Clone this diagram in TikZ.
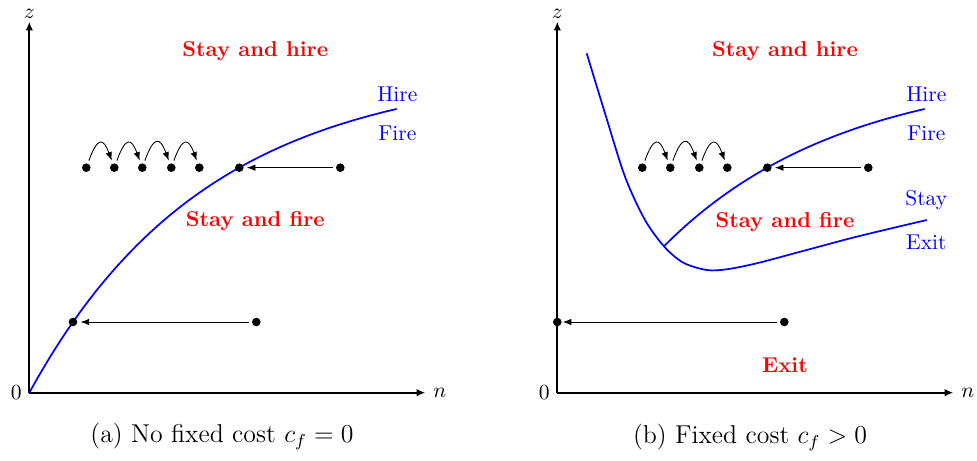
\documentclass[tikz,border=0pt]{standalone}
\usetikzlibrary{arrows.meta}
\tikzset{axis/.style={thick,-{Latex[length=4pt,width=3.5pt]}},
  frontier/.style={thick,blue},
  region/.style={red,font=\bfseries},
  bound/.style={blue},
  dot/.style={circle,fill,inner sep=0pt,minimum size=4pt,outer sep=1.5pt},
  move/.style={-{Latex[length=4pt,width=3pt]}},
  jump/.style={move,out=70,in=110,looseness=2.8}}

\begin{document}
\begin{tikzpicture}[x=0.465pt,y=0.465pt]
  \useasboundingbox (-29.3,-68.3) rectangle (947.7,392.7);
  % (a) no fixed cost
  \draw[axis] (0,0) -- (0,371) node[above,inner sep=1pt] (za) {$z$};
  \draw[axis] (0,0) -- (396,0) node[right] (na) {$n$};
  \node[left] (oa) at (0,0) {0};
  \draw[frontier,domain=0:367.4,samples=80] plot (\x,{325*(1-exp(-\x/178))});
  \node[bound] (hirea) at (368,298) {Hire};
  \node[bound] (firea) at (368,259) {Fire};
  \node[region] (sha) at (226,342) {Stay and hire};
  \node[region] (sfa) at (226,172) {Stay and fire};
  \foreach \i/\x in {1/57,2/85,3/113,4/142,5/170}
    \node[dot] (a\i) at (\x,225) {};
  \node[dot] (a6) at (210,225) {};
  \node[dot] (a7) at (311,225) {};
  \foreach \i/\j in {1/2,2/3,3/4,4/5}
    \draw[jump] (a\i) to (a\j);
  \draw[move] (a7) -- (a6);
  \node[dot] (a8) at (43.7,70.7) {};
  \node[dot] (a9) at (227,70.7) {};
  \draw[move] (a9) -- (a8);
  \node[font=\large] (capa) at (192.7,-44) {(a) No fixed cost $c_f=0$};
  % (b) fixed cost
  \begin{scope}[shift={(528,0)}]
    \draw[axis] (0,0) -- (0,371) node[above,inner sep=1pt] (zb) {$z$};
    \draw[axis] (0,0) -- (396,0) node[right] (nb) {$n$};
    \node[left] (ob) at (0,0) {0};
    \draw[frontier] plot[smooth] coordinates {(29.4,339.4) (47.7,279.4) (67.7,216)
      (87.7,172.7) (107,146) (126,130) (149.4,122.7) (169.4,123.4) (199.4,129.4)
      (249.4,142.7) (299.4,156) (369.4,172.7)};
    \draw[frontier,domain=107:367.4,samples=60] plot (\x,{325*(1-exp(-\x/178))});
    \node[bound] (hireb) at (369,298) {Hire};
    \node[bound] (fireb) at (369,259) {Fire};
    \node[bound] (stayb) at (369,193) {Stay};
    \node[bound] (exitb) at (369,150) {Exit};
    \node[region] (shb) at (227.7,342) {Stay and hire};
    \node[region] (sfb) at (227.7,171) {Stay and fire};
    \node[region] (exb) at (227.7,28) {Exit};
    \foreach \i/\x in {1/85,2/113,3/142,4/170}
      \node[dot] (b\i) at (\x,225) {};
    \node[dot] (b5) at (210,225) {};
    \node[dot] (b6) at (311,225) {};
    \foreach \i/\j in {1/2,2/3,3/4}
      \draw[jump] (b\i) to (b\j);
    \draw[move] (b6) -- (b5);
    \node[dot] (b7) at (0,70.7) {};
    \node[dot] (b8) at (227,70.7) {};
    \draw[move,shorten >=-1pt] (b8) -- (b7);
    \node[font=\large] (capb) at (192.7,-45) {(b) Fixed cost $c_f>0$};
  \end{scope}
\end{tikzpicture}
\end{document}
